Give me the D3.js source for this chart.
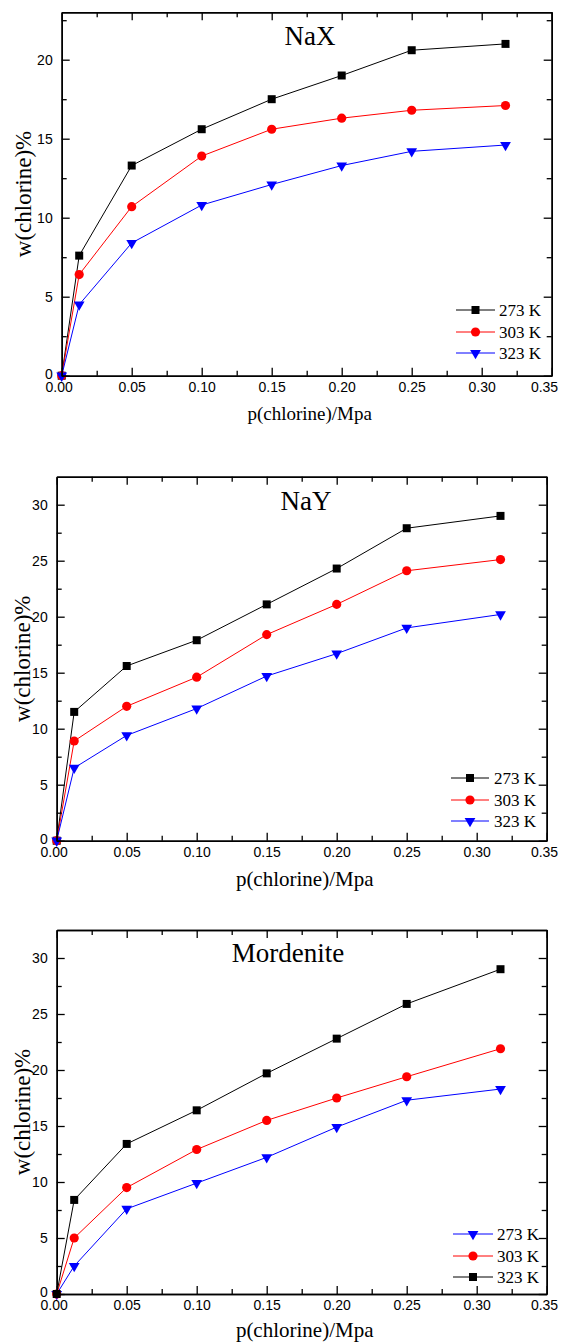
<!DOCTYPE html>
<html lang="en">
<head>
  <meta charset="UTF-8">
  <title>Chlorine adsorption isotherms</title>
  <script src="https://cdn.jsdelivr.net/npm/d3@7"></script>
  <style>
    body { margin: 0; background: #fff; }
    svg { display: block; }
    .tick text { font-family: "Liberation Sans", Arial, sans-serif; font-size: 14px; fill: #000; }
    .serif { font-family: "Liberation Serif", "Times New Roman", serif; fill: #000; }
  </style>
</head>
<body>
  <div id="chart"></div>

  <script>
    // pressure values (MPa), shared by all three panels
    const pressure = [0, 0.0125, 0.05, 0.10, 0.15, 0.20, 0.25, 0.317];

    // NaX
    const naX273 = [0, 7.6, 13.3, 15.6, 17.5, 19.0, 20.6, 21.0];
    const naX303 = [0, 6.4, 10.7, 13.9, 15.6, 16.3, 16.8, 17.1];
    const naX323 = [0, 4.5, 8.4, 10.8, 12.1, 13.3, 14.2, 14.6];

    // NaY
    const naY273 = [0, 11.5, 15.6, 17.9, 21.1, 24.3, 27.9, 29.0];
    const naY303 = [0, 8.9, 12.0, 14.6, 18.4, 21.1, 24.1, 25.1];
    const naY323 = [0, 6.5, 9.4, 11.8, 14.7, 16.7, 19.0, 20.2];

    // Mordenite
    const mor273 = [0, 2.5, 7.6, 9.9, 12.2, 14.9, 17.3, 18.3];
    const mor303 = [0, 5.0, 9.5, 12.9, 15.5, 17.5, 19.4, 21.9];
    const mor323 = [0, 8.4, 13.4, 16.4, 19.7, 22.8, 25.9, 29.0];

    // ticks
    const xMajor = [0, 0.05, 0.10, 0.15, 0.20, 0.25, 0.30, 0.35];
    const xMinor = [0.025, 0.075, 0.125, 0.175, 0.225, 0.275, 0.325];
    const yMajorNaX = [0, 5, 10, 15, 20];
    const yMinorNaX = [2.5, 7.5, 12.5, 17.5, 22.5];
    const yMajor = [0, 5, 10, 15, 20, 25, 30];
    const yMinor = [2.5, 7.5, 12.5, 17.5, 22.5, 27.5];

    const width = 562, height = 1343;

    const svg = d3.select('#chart').append('svg')
      .attr('width', width)
      .attr('height', height);

    const marks = {
      square: { type: d3.symbolSquare, size: 64, rotate: 0 },
      circle: { type: d3.symbolCircle, size: 66, rotate: 0 },
      triangle: { type: d3.symbolTriangle, size: 50, rotate: 180 }
    };

    const panels = [
      {
        title: 'NaX', titleX: 310, titleY: 45,
        left: 61.7, top: 12.3, bottom: 375.7, yMax: 23,
        yMajor: yMajorNaX, yMinor: yMinorNaX,
        xLabelY: 420, xLabelSize: 19, yLabelX: 31,
        legend: { x1: 456, x2: 495, textX: 499, rows: [310, 332, 353] },
        series: [
          { label: '273 K', values: naX273, color: '#000', mark: 'square' },
          { label: '303 K', values: naX303, color: '#ff0000', mark: 'circle' },
          { label: '323 K', values: naX323, color: '#0000ff', mark: 'triangle' }
        ]
      },
      {
        title: 'NaY', titleX: 306, titleY: 510,
        left: 56.7, top: 476.7, bottom: 840.7, yMax: 32.5,
        yMajor: yMajor, yMinor: yMinor,
        xLabelY: 886, xLabelSize: 21, yLabelX: 30,
        legend: { x1: 451, x2: 489, textX: 494, rows: [778, 800, 821] },
        series: [
          { label: '273 K', values: naY273, color: '#000', mark: 'square' },
          { label: '303 K', values: naY303, color: '#ff0000', mark: 'circle' },
          { label: '323 K', values: naY323, color: '#0000ff', mark: 'triangle' }
        ]
      },
      {
        title: 'Mordenite', titleX: 288, titleY: 962,
        left: 56.7, top: 930, bottom: 1294, yMax: 32.5,
        yMajor: yMajor, yMinor: yMinor,
        xLabelY: 1337, xLabelSize: 21, yLabelX: 30,
        legend: { x1: 453, x2: 493, textX: 497, rows: [1234, 1256, 1277] },
        series: [
          { label: '273 K', values: mor273, color: '#0000ff', mark: 'triangle' },
          { label: '303 K', values: mor303, color: '#ff0000', mark: 'circle' },
          { label: '323 K', values: mor323, color: '#000', mark: 'square' }
        ]
      }
    ];

    const symbolPath = name => d3.symbol().type(marks[name].type).size(marks[name].size)();

    panels.forEach(p => {
      const right = p.left + 490;
      const x = d3.scaleLinear().domain([0, 0.35]).range([p.left, right]);
      const y = d3.scaleLinear().domain([0, p.yMax]).range([p.bottom, p.top]);
      const g = svg.append('g');

      // data lines and markers
      const line = d3.line().x(d => x(d[0])).y(d => y(d[1]));
      p.series.forEach(s => {
        const pts = pressure.map((v, i) => [v, s.values[i]]);
        g.append('path')
          .attr('d', line(pts))
          .attr('fill', 'none')
          .attr('stroke', s.color)
          .attr('stroke-width', 1);
        g.selectAll(null)
          .data(pts)
          .join('path')
          .attr('d', symbolPath(s.mark))
          .attr('transform', d => `translate(${x(d[0])},${y(d[1])}) rotate(${marks[s.mark].rotate})`)
          .attr('fill', s.color);
      });

      // axes on all four sides, ticks pointing inward
      const styleAxis = sel => {
        sel.select('.domain').attr('stroke', '#000').attr('stroke-width', 1.5);
        sel.selectAll('.tick line').attr('stroke', '#000').attr('stroke-width', 1.3);
      };
      const addAxis = (axis, tx, ty) => g.append('g')
        .attr('transform', `translate(${tx},${ty})`)
        .call(axis).call(styleAxis);

      const bottomAxis = addAxis(d3.axisBottom(x).tickValues(xMajor).tickFormat(d3.format('.2f'))
        .tickSize(-8).tickSizeOuter(0).tickPadding(6), 0, p.bottom);
      // keep the first and last labels inside the page like the original
      bottomAxis.selectAll('.tick text')
        .attr('x', d => d === 0 ? -3 : (d === 0.35 ? 544 - right : 0));
      addAxis(d3.axisBottom(x).tickValues(xMinor).tickFormat('').tickSize(-5).tickSizeOuter(0), 0, p.bottom);
      addAxis(d3.axisTop(x).tickValues(xMajor).tickFormat('').tickSize(-8).tickSizeOuter(0), 0, p.top);
      addAxis(d3.axisTop(x).tickValues(xMinor).tickFormat('').tickSize(-5).tickSizeOuter(0), 0, p.top);
      const leftAxis = addAxis(d3.axisLeft(y).tickValues(p.yMajor).tickFormat(d3.format('d'))
        .tickSize(-8).tickSizeOuter(0).tickPadding(9), p.left, 0);
      // lift the zero label a little so it clears the 0.00 label
      leftAxis.selectAll('.tick text').attr('y', d => d === 0 ? -2 : 0);
      addAxis(d3.axisLeft(y).tickValues(p.yMinor).tickFormat('').tickSize(-5).tickSizeOuter(0), p.left, 0);
      addAxis(d3.axisRight(y).tickValues(p.yMajor).tickFormat('').tickSize(-8).tickSizeOuter(0), right, 0);
      addAxis(d3.axisRight(y).tickValues(p.yMinor).tickFormat('').tickSize(-5).tickSizeOuter(0), right, 0);

      // title
      g.append('text').attr('class', 'serif')
        .attr('x', p.titleX).attr('y', p.titleY)
        .attr('text-anchor', 'middle')
        .attr('font-size', 27)
        .text(p.title);

      // axis titles
      g.append('text').attr('class', 'serif')
        .attr('x', (p.left + right) / 2 + 3).attr('y', p.xLabelY)
        .attr('text-anchor', 'middle')
        .attr('font-size', p.xLabelSize)
        .text('p(chlorine)/Mpa');
      g.append('text').attr('class', 'serif')
        .attr('transform', `translate(${p.yLabelX},${(p.top + p.bottom) / 2}) rotate(-90)`)
        .attr('text-anchor', 'middle')
        .attr('font-size', 23)
        .text('w(chlorine)%');

      // legend
      const lg = p.legend;
      p.series.forEach((s, i) => {
        const ry = lg.rows[i];
        g.append('line')
          .attr('x1', lg.x1).attr('x2', lg.x2)
          .attr('y1', ry).attr('y2', ry)
          .attr('stroke', s.color).attr('stroke-width', 1);
        g.append('path')
          .attr('d', symbolPath(s.mark))
          .attr('transform', `translate(${(lg.x1 + lg.x2) / 2},${ry}) rotate(${marks[s.mark].rotate})`)
          .attr('fill', s.color);
        g.append('text').attr('class', 'serif')
          .attr('x', lg.textX).attr('y', ry)
          .attr('dy', '0.35em')
          .attr('font-size', 17)
          .text(s.label);
      });
    });
  </script>
</body>
</html>
